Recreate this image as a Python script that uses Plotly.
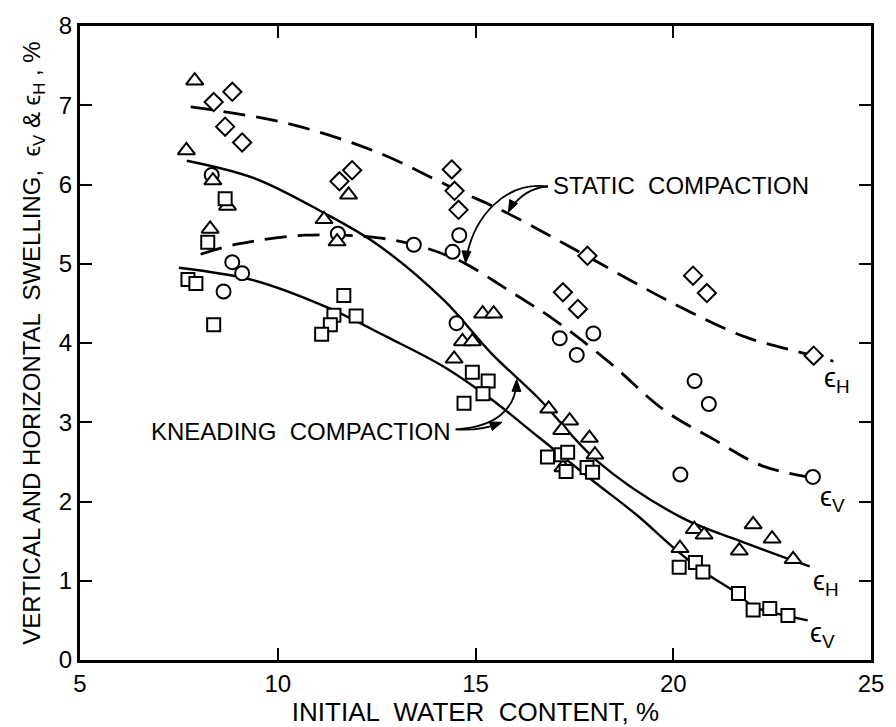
import math
import plotly.graph_objects as go

# ---- measured points -------------------------------------------------------
# static compaction, horizontal swelling (diamonds)
static_eh_w = [8.38, 8.85, 8.67, 9.10, 11.56, 11.88, 14.40, 14.47, 14.57,
               17.83, 17.21, 17.59, 20.50, 20.85, 23.55]
static_eh_s = [7.04, 7.17, 6.73, 6.53, 6.04, 6.18, 6.19, 5.92, 5.68,
               5.10, 4.64, 4.43, 4.85, 4.63, 3.84]

# static compaction, vertical swelling (circles)
static_ev_w = [8.33, 8.85, 9.10, 8.63, 11.52, 13.44, 14.59, 14.42, 14.52,
               17.13, 17.98, 17.56, 20.54, 20.90, 20.18, 23.53]
static_ev_s = [6.12, 5.02, 4.88, 4.65, 5.38, 5.24, 5.36, 5.15, 4.25,
               4.06, 4.12, 3.85, 3.52, 3.23, 2.34, 2.31]

# kneading compaction, horizontal swelling (triangles)
knead_eh_w = [7.90, 7.69, 8.36, 8.73, 8.29, 11.79, 11.17, 11.50, 15.18, 15.46,
              14.67, 14.92, 14.46, 16.85, 17.38, 17.18, 17.88, 18.02, 17.21,
              20.17, 20.53, 20.78, 22.02, 22.50, 21.67, 23.03]
knead_eh_s = [7.31, 6.43, 6.05, 5.73, 5.44, 5.87, 5.56, 5.28, 4.37, 4.37,
              4.02, 4.02, 3.80, 3.17, 3.02, 2.90, 2.80, 2.59, 2.43,
              1.41, 1.65, 1.58, 1.71, 1.53, 1.38, 1.27]

# kneading compaction, vertical swelling (squares)
knead_ev_w = [7.73, 7.93, 8.23, 8.67, 8.38, 11.67, 11.42, 11.98, 11.33, 11.11,
              14.92, 15.32, 15.19, 14.71, 16.82, 17.17, 17.33, 17.29, 17.82,
              17.96, 20.15, 20.56, 20.75, 21.65, 22.02, 22.44, 22.90]
knead_ev_s = [4.80, 4.75, 5.27, 5.82, 4.23, 4.60, 4.35, 4.34, 4.23, 4.11,
              3.63, 3.52, 3.36, 3.24, 2.56, 2.59, 2.62, 2.38, 2.43,
              2.37, 1.17, 1.23, 1.11, 0.84, 0.63, 0.65, 0.56]

# ---- fitted trend curves ---------------------------------------------------
static_eh_fit_w = [7.8, 10.25, 12.5, 14.45, 15.8, 17.8, 20.0, 21.8, 23.0, 24.05]
static_eh_fit_s = [6.98, 6.77, 6.41, 5.95, 5.64, 5.10, 4.50, 4.08, 3.91, 3.77]

static_ev_fit_w = [8.05, 9.0, 10.7, 12.5, 13.45, 14.2, 14.75, 15.85, 17.0,
                   18.4, 19.75, 21.0, 22.25, 23.5]
static_ev_fit_s = [5.12, 5.25, 5.36, 5.33, 5.24, 5.12, 5.00, 4.66, 4.29,
                   3.75, 3.16, 2.79, 2.45, 2.30]

knead_eh_fit_w = [7.7, 9.4, 11.1, 12.5, 14.2, 15.4, 16.6, 18.1, 20.2, 21.7, 23.45]
knead_eh_fit_s = [6.30, 6.08, 5.66, 5.25, 4.54, 3.87, 3.30, 2.50, 1.80, 1.50, 1.18]

knead_ev_fit_w = [7.5, 9.4, 11.25, 12.75, 14.2, 15.4, 16.6, 18.0, 19.1, 20.0,
                  20.75, 21.65, 22.0, 22.5, 23.4]
knead_ev_fit_s = [4.95, 4.79, 4.45, 4.08, 3.70, 3.29, 2.81, 2.25, 1.82, 1.42,
                  1.12, 0.83, 0.68, 0.60, 0.50]

x_ticks = [5, 10, 15, 20, 25]
y_ticks = [0, 1, 2, 3, 4, 5, 6, 7, 8]

FONT = "Liberation Sans, Arial, sans-serif"
INK = "black"

# pixel size of one data unit on each axis (800 px / 20, 640 px / 8)
PX_PER_X = 40.0
PX_PER_Y = 80.0

fig = go.Figure()

# trend curves
for w, s, dash, width in [
    (static_eh_fit_w, static_eh_fit_s, "22px,11px", 2.8),
    (static_ev_fit_w, static_ev_fit_s, "22px,11px", 2.8),
    (knead_eh_fit_w, knead_eh_fit_s, "solid", 2.4),
    (knead_ev_fit_w, knead_ev_fit_s, "solid", 2.4),
]:
    fig.add_trace(go.Scatter(
        x=w, y=s, mode="lines",
        line=dict(color=INK, width=width, dash=dash, shape="spline", smoothing=1.0),
        hoverinfo="skip", showlegend=False,
    ))

# measured points, white-filled so the curves stop at their outlines
for w, s, sym, size in [
    (static_eh_w, static_eh_s, "diamond", 14),
    (static_ev_w, static_ev_s, "circle", 14),
    (knead_eh_w, knead_eh_s, "triangle-up", 15),
    (knead_ev_w, knead_ev_s, "square", 13),
]:
    fig.add_trace(go.Scatter(
        x=w, y=s, mode="markers",
        marker=dict(symbol=sym, size=size, color="white",
                    line=dict(color=INK, width=2)),
        showlegend=False,
    ))

# curve labels at the right-hand ends
curve_labels = [
    (23.77, 3.53, "ϵ<sub>H</sub>"),
    (23.65, 2.03, "ϵ<sub>V</sub>"),
    (23.48, 0.97, "ϵ<sub>H</sub>"),
    (23.40, 0.32, "ϵ<sub>V</sub>"),
]
annotations = []
for lx, ly, txt in curve_labels:
    annotations.append(dict(x=lx, y=ly, xref="x", yref="y", text=txt,
                            showarrow=False, xanchor="left", yanchor="middle",
                            font=dict(family=FONT, size=27, color=INK)))

# group captions
annotations.append(dict(x=16.92, y=5.99, xref="x", yref="y",
                        text="STATIC  COMPACTION", showarrow=False,
                        xanchor="left", yanchor="middle",
                        font=dict(family=FONT, size=24, color=INK)))
annotations.append(dict(x=6.75, y=2.88, xref="x", yref="y",
                        text="KNEADING  COMPACTION", showarrow=False,
                        xanchor="left", yanchor="middle",
                        font=dict(family=FONT, size=24, color=INK)))

# curved leader lines from the captions to the curves
leaders = [
    "M 16.83,5.975 Q 16.25,5.96 15.86,5.68",
    "M 16.83,5.975 C 15.75,6.04 14.95,5.60 14.76,5.05",
    "M 14.50,2.91 Q 15.13,2.89 15.63,2.99",
    "M 14.50,2.91 C 15.50,2.94 16.00,3.16 16.04,3.50",
]
shapes = [dict(type="path", path=p, xref="x", yref="y",
               line=dict(color=INK, width=1.8)) for p in leaders]


def arrow_head(tip_x, tip_y, from_x, from_y, length=12.0, half_width=4.5):
    """Filled arrow head at (tip_x, tip_y) pointing away from (from_x, from_y)."""
    ux = (tip_x - from_x) * PX_PER_X
    uy = (tip_y - from_y) * PX_PER_Y
    norm = math.hypot(ux, uy)
    ux, uy = ux / norm, uy / norm
    bx, by = -ux * length, -uy * length
    nx, ny = -uy * half_width, ux * half_width
    c1 = (tip_x + (bx + nx) / PX_PER_X, tip_y + (by + ny) / PX_PER_Y)
    c2 = (tip_x + (bx - nx) / PX_PER_X, tip_y + (by - ny) / PX_PER_Y)
    path = (f"M {tip_x},{tip_y} L {c1[0]:.4f},{c1[1]:.4f} "
            f"L {c2[0]:.4f},{c2[1]:.4f} Z")
    return dict(type="path", path=path, xref="x", yref="y",
                fillcolor=INK, line=dict(color=INK, width=1))


for hx, hy, tx, ty in [
    (15.83, 5.65, 15.98, 5.80),
    (14.75, 5.01, 14.77, 5.16),
    (15.67, 3.00, 15.50, 2.97),
    (16.04, 3.54, 16.035, 3.40),
]:
    shapes.append(arrow_head(hx, hy, tx, ty))

axis_common = dict(
    showgrid=False, zeroline=False, showline=True, linecolor=INK, linewidth=3,
    mirror="ticks", ticks="inside", ticklen=12, tickwidth=2, tickcolor=INK,
    tickfont=dict(family=FONT, size=24, color=INK),
)

fig.update_layout(
    width=896, height=727,
    margin=dict(l=80, r=16, t=23, b=64),
    paper_bgcolor="white", plot_bgcolor="white",
    font=dict(family=FONT, color=INK),
    xaxis=dict(range=[5, 25], tickvals=x_ticks,
               title=dict(text="INITIAL  WATER  CONTENT, %",
                          font=dict(family=FONT, size=26, color=INK), standoff=0),
               **axis_common),
    yaxis=dict(range=[0, 8], tickvals=y_ticks,
               title=dict(text="VERTICAL AND HORIZONTAL  SWELLING,  ϵ<sub>V</sub> & ϵ<sub>H</sub> , %",
                          font=dict(family=FONT, size=24, color=INK), standoff=12),
               **axis_common),
    annotations=annotations,
    shapes=shapes,
)

fig.write_html("out.html")
